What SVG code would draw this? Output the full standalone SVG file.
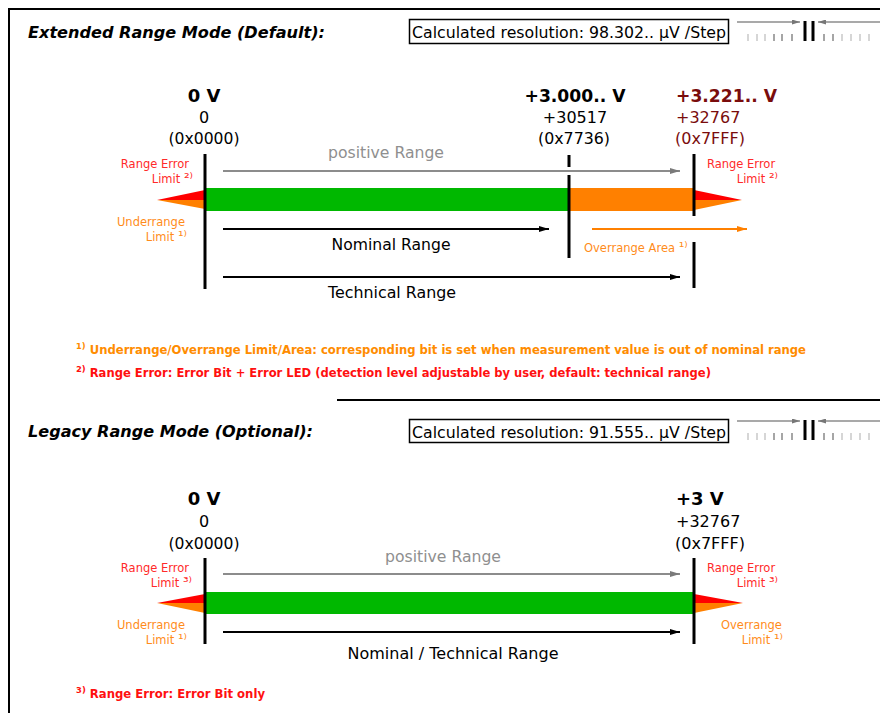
<svg xmlns="http://www.w3.org/2000/svg" width="880" height="713" viewBox="0 0 880 713">
<style>
text{font-family:"DejaVu Sans","Liberation Sans",sans-serif;}
.title{font-size:16px;font-weight:bold;font-style:italic;fill:#000;}
.res{font-size:16px;fill:#000;}
.volt{font-size:18px;font-weight:bold;fill:#000;}
.val{font-size:16px;fill:#000;}
.dred{fill:#7a0c0c;}
.rng{font-size:15px;fill:#000;}
.pos{font-size:15px;fill:#8f8f8f;}
.lblr{font-size:11.5px;fill:#ff2a2a;}
.lblo{font-size:11.5px;fill:#ff8c1a;}
.sup{font-size:14px;}
.fn{font-size:13px;font-weight:bold;font-stretch:condensed;}
.fnsup{font-size:15px;}
.fno{fill:#ff8c00;}
.fnr{fill:#ff1010;}
.vbar{stroke:#000;stroke-width:3;}
.frame{stroke:#000;stroke-width:2;fill:none;}
.box{fill:#fff;stroke:#000;stroke-width:1.5;}
.gline{stroke:#8c8c8c;stroke-width:2;}
.bline{stroke:#000;stroke-width:2;}
.oline{stroke:#ff8000;stroke-width:2;}
.tick{stroke:#c8c8c8;stroke-width:1.5;}
.tickd{stroke:#888;stroke-width:1.5;}
.icobar{stroke:#000;stroke-width:3;}
.icoline{stroke:#8c8c8c;stroke-width:1.5;}
</style>
<defs>
<marker id="ahg" markerUnits="userSpaceOnUse" markerWidth="10" markerHeight="6" refX="10" refY="3" orient="auto"><path d="M0,0 L10,3 L0,6 z" fill="#7a7a7a"/></marker>
<marker id="ahb" markerUnits="userSpaceOnUse" markerWidth="10" markerHeight="6" refX="10" refY="3" orient="auto"><path d="M0,0 L10,3 L0,6 z" fill="#000"/></marker>
<marker id="aho" markerUnits="userSpaceOnUse" markerWidth="10" markerHeight="6" refX="10" refY="3" orient="auto"><path d="M0,0 L10,3 L0,6 z" fill="#ff8000"/></marker>
<marker id="ahi" markerUnits="userSpaceOnUse" markerWidth="8" markerHeight="5" refX="8" refY="2.5" orient="auto"><path d="M0,0 L8,2.5 L0,5 z" fill="#777"/></marker>
<g id="icon">
<line class="icoline" x1="737" y1="22" x2="800" y2="22" marker-end="url(#ahi)"/>
<line class="icoline" x1="880" y1="22" x2="818" y2="22" marker-end="url(#ahi)"/>
<line class="icobar" x1="805" y1="21" x2="805" y2="41"/>
<line class="icobar" x1="813" y1="21" x2="813" y2="41"/>
<line class="tick" x1="748" y1="34" x2="748" y2="41"/>
<line class="tick" x1="757" y1="34" x2="757" y2="41"/>
<line class="tick" x1="765" y1="34" x2="765" y2="41"/>
<line class="tickd" x1="774" y1="34" x2="774" y2="41"/>
<line class="tickd" x1="782" y1="34" x2="782" y2="41"/>
<line class="tickd" x1="792" y1="34" x2="792" y2="41"/>
<line class="tickd" x1="824" y1="34" x2="824" y2="41"/>
<line class="tickd" x1="833" y1="34" x2="833" y2="41"/>
<line class="tick" x1="842" y1="34" x2="842" y2="41"/>
<line class="tick" x1="851" y1="34" x2="851" y2="41"/>
<line class="tick" x1="860" y1="34" x2="860" y2="41"/>
<line class="tick" x1="869" y1="34" x2="869" y2="41"/>
</g>
</defs>

<rect width="880" height="713" fill="#fff"/>
<g id="frame">
<polyline class="frame" points="9,713 9,9 880,9"/>
<line class="frame" x1="337" y1="400" x2="880" y2="400"/>
</g>

<!-- Section 1 -->
<g id="ext-header">
<text class="title" x="28" y="38" textLength="297" lengthAdjust="spacingAndGlyphs">Extended Range Mode (Default):</text>
<rect class="box" x="409.5" y="19.5" width="319" height="24"/>
<text class="res" x="412" y="38" textLength="314" lengthAdjust="spacingAndGlyphs">Calculated resolution: 98.302.. µV /Step</text>
<use href="#icon"/>
</g>

<g id="ext-bars">
<rect x="205" y="188" width="364" height="23" fill="#00b800"/>
<rect x="569" y="188" width="125" height="23" fill="#ff8000"/>
<polygon points="157,200 205,190 205,200" fill="#ff0000"/>
<polygon points="157,200 205,200 205,209" fill="#ff8000"/>
<polygon points="742,200 694,190 694,200" fill="#ff0000"/>
<polygon points="742,200 694,200 694,210" fill="#ff8000"/>
</g>

<g id="ext-0V">
<line class="vbar" x1="205" y1="154" x2="205" y2="289"/>
<text class="volt" x="204" y="102" text-anchor="middle">0 V</text>
<text class="val" x="204" y="123" text-anchor="middle">0</text>
<text class="val" x="204" y="144" text-anchor="middle" textLength="71" lengthAdjust="spacingAndGlyphs">(0x0000)</text>
<text class="lblr" x="189" y="168" text-anchor="end">Range Error</text>
<text class="lblr" x="193" y="183" text-anchor="end">Limit <tspan class="sup">²⁾</tspan></text>
<text class="lblo" x="185" y="226" text-anchor="end">Underrange</text>
<text class="lblo" x="187" y="241" text-anchor="end">Limit <tspan class="sup">¹⁾</tspan></text>
</g>

<g id="ext-3000">
<line class="vbar" x1="569" y1="155" x2="569" y2="167"/>
<line class="vbar" x1="569" y1="175" x2="569" y2="258"/>
<text class="volt" x="575" y="102" text-anchor="middle" textLength="101" lengthAdjust="spacingAndGlyphs">+3.000.. V</text>
<text class="val" x="575" y="123" text-anchor="middle">+30517</text>
<text class="val" x="574" y="144" text-anchor="middle" textLength="72" lengthAdjust="spacingAndGlyphs">(0x7736)</text>
</g>

<g id="ext-3221">
<line class="vbar" x1="694" y1="154" x2="694" y2="216"/>
<line class="vbar" x1="694" y1="242" x2="694" y2="288"/>
<text class="volt dred" x="676" y="102" textLength="101" lengthAdjust="spacingAndGlyphs">+3.221.. V</text>
<text class="val dred" x="676" y="123">+32767</text>
<text class="val dred" x="675" y="144" textLength="70" lengthAdjust="spacingAndGlyphs">(0x7FFF)</text>
<text class="lblr" x="707" y="168">Range Error</text>
<text class="lblr" x="778" y="183" text-anchor="end">Limit <tspan class="sup">²⁾</tspan></text>
</g>

<g id="connectors">
<line class="gline" x1="223" y1="171" x2="680" y2="171" marker-end="url(#ahg)"/>
<line class="bline" x1="223" y1="229" x2="549" y2="229" marker-end="url(#ahb)"/>
<line class="oline" x1="592" y1="229" x2="747" y2="229" marker-end="url(#aho)"/>
<line class="bline" x1="223" y1="277" x2="680" y2="277" marker-end="url(#ahb)"/>
<line class="gline" x1="223" y1="574" x2="680" y2="574" marker-end="url(#ahg)"/>
<line class="bline" x1="223" y1="632" x2="680" y2="632" marker-end="url(#ahb)"/>
</g>

<g id="ext-labels">
<text class="pos" x="386" y="158" text-anchor="middle" textLength="116" lengthAdjust="spacingAndGlyphs">positive Range</text>
<text class="rng" x="391" y="250" text-anchor="middle" textLength="119" lengthAdjust="spacingAndGlyphs">Nominal Range</text>
<text class="rng" x="392" y="298" text-anchor="middle" textLength="128" lengthAdjust="spacingAndGlyphs">Technical Range</text>
<text class="lblo" x="584" y="252">Overrange Area <tspan class="sup">¹⁾</tspan></text>
</g>

<g id="ext-footnotes">
<text class="fn fno" x="76" y="354" textLength="730" lengthAdjust="spacingAndGlyphs"><tspan class="fnsup">¹⁾</tspan> Underrange/Overrange Limit/Area: corresponding bit is set when measurement value is out of nominal range</text>
<text class="fn fnr" x="76" y="377" textLength="635" lengthAdjust="spacingAndGlyphs"><tspan class="fnsup">²⁾</tspan> Range Error: Error Bit + Error LED (detection level adjustable by user, default: technical range)</text>
</g>

<!-- Section 2 -->
<g id="leg-header">
<text class="title" x="28" y="437" textLength="285" lengthAdjust="spacingAndGlyphs">Legacy Range Mode (Optional):</text>
<rect class="box" x="409.5" y="419.5" width="319" height="23"/>
<text class="res" x="412" y="438" textLength="314" lengthAdjust="spacingAndGlyphs">Calculated resolution: 91.555.. µV /Step</text>
<use href="#icon" y="399"/>
</g>

<g id="leg-bars">
<rect x="205" y="592" width="489" height="22" fill="#00b800"/>
<polygon points="157,603 205,594 205,603" fill="#ff0000"/>
<polygon points="157,603 205,603 205,613" fill="#ff8000"/>
<polygon points="743,603 694,594 694,603" fill="#ff0000"/>
<polygon points="743,603 694,603 694,613" fill="#ff8000"/>
</g>

<g id="leg-0V">
<line class="vbar" x1="205" y1="558" x2="205" y2="644"/>
<text class="volt" x="204" y="505" text-anchor="middle">0 V</text>
<text class="val" x="204" y="527" text-anchor="middle">0</text>
<text class="val" x="204" y="549" text-anchor="middle" textLength="71" lengthAdjust="spacingAndGlyphs">(0x0000)</text>
<text class="lblr" x="189" y="572" text-anchor="end">Range Error</text>
<text class="lblr" x="192" y="587" text-anchor="end">Limit <tspan class="sup">³⁾</tspan></text>
<text class="lblo" x="185" y="629" text-anchor="end">Underrange</text>
<text class="lblo" x="187" y="644" text-anchor="end">Limit <tspan class="sup">¹⁾</tspan></text>
</g>

<g id="leg-3V">
<line class="vbar" x1="694" y1="558" x2="694" y2="644"/>
<text class="volt" x="676" y="505">+3 V</text>
<text class="val" x="676" y="527">+32767</text>
<text class="val" x="675" y="549" textLength="70" lengthAdjust="spacingAndGlyphs">(0x7FFF)</text>
<text class="lblr" x="707" y="572">Range Error</text>
<text class="lblr" x="778" y="587" text-anchor="end">Limit <tspan class="sup">³⁾</tspan></text>
<text class="lblo" x="721" y="629">Overrange</text>
<text class="lblo" x="783" y="644" text-anchor="end">Limit <tspan class="sup">¹⁾</tspan></text>
</g>

<g id="leg-labels">
<text class="pos" x="443" y="562" text-anchor="middle" textLength="116" lengthAdjust="spacingAndGlyphs">positive Range</text>
<text class="rng" x="453" y="659" text-anchor="middle" textLength="211" lengthAdjust="spacingAndGlyphs">Nominal / Technical Range</text>
</g>

<g id="leg-footnotes">
<text class="fn fnr" x="76" y="698" textLength="189" lengthAdjust="spacingAndGlyphs"><tspan class="fnsup">³⁾</tspan> Range Error: Error Bit only</text>
</g>
</svg>
